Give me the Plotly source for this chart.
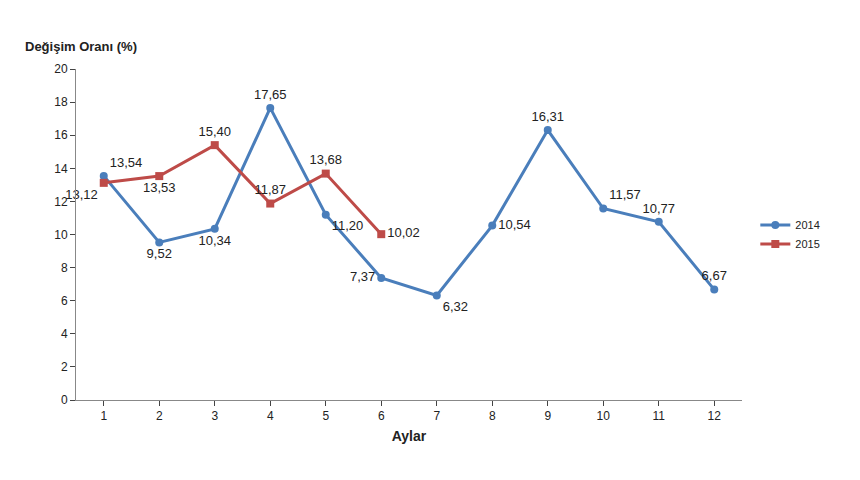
import plotly.graph_objects as go

months = list(range(1, 13))
vals_2014 = [13.54, 9.52, 10.34, 17.65, 11.20, 7.37, 6.32, 10.54, 16.31, 11.57, 10.77, 6.67]
vals_2015 = [13.12, 13.53, 15.40, 11.87, 13.68, 10.02]
pos_2014 = ['top right', 'bottom center', 'bottom center', 'top center', 'bottom right', 'middle left',
            'bottom right', 'middle right', 'top center', 'top right', 'top center', 'top center']
pos_2015 = ['bottom left', 'bottom center', 'top center', 'top center', 'top center', 'middle right']

def fmt(v):
    return f"{v:.2f}".replace('.', ',')

fig = go.Figure()
fig.add_trace(go.Scatter(x=months, y=vals_2014, name='2014', mode='lines+markers+text',
                         line=dict(color='#4a7ebb', width=3), marker=dict(size=8, symbol='circle'),
                         text=[fmt(v) for v in vals_2014], textposition=pos_2014, cliponaxis=False,
                         textfont=dict(size=13, color='#222')))
fig.add_trace(go.Scatter(x=months[:6], y=vals_2015, name='2015', mode='lines+markers+text',
                         line=dict(color='#be4b48', width=3), marker=dict(size=8, symbol='square'),
                         text=[fmt(v) for v in vals_2015], textposition=pos_2015, cliponaxis=False,
                         textfont=dict(size=13, color='#222')))

fig.update_layout(
    width=860, height=480, plot_bgcolor='white', paper_bgcolor='white',
    margin=dict(l=68, r=126, t=61, b=88),
    font=dict(family='Liberation Sans, Arial', size=12, color='#222'),
    legend=dict(x=1.02, y=0.5, yanchor='middle', tracegroupgap=30, font=dict(size=11)),
    xaxis=dict(range=[0.5, 12.5], tickvals=months, showline=True, linecolor='#888',
               ticks='outside', showgrid=False, zeroline=False,
               title=dict(text='<b>Aylar</b>', standoff=8)),
    yaxis=dict(range=[0, 20], dtick=2, showline=True, linecolor='#888', ticks='outside',
               showgrid=False, zeroline=False),
    annotations=[dict(text='<b>Değişim Oranı (%)</b>', xref='paper', yref='paper',
                      x=-0.08, y=1.04, xanchor='left', yanchor='bottom', showarrow=False,
                      font=dict(size=13))],
)
fig.write_html("out.html")
